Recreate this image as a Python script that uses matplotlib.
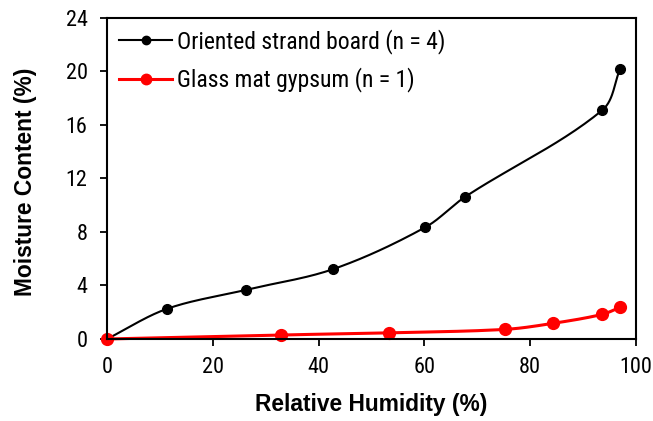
import numpy as np
import matplotlib.pyplot as plt

plt.rcParams['font.family'] = ['Liberation Sans', 'DejaVu Sans']
NARROW = ['Roboto Condensed', 'Liberation Sans', 'DejaVu Sans']

# data
osb_rh = [0, 11.3, 26.2, 42.8, 60.2, 67.6, 93.6, 97.0]
osb_mc = [0, 2.25, 3.67, 5.23, 8.36, 10.6, 17.1, 20.2]
gyp_rh = [0, 32.8, 53.3, 75.3, 84.3, 93.6, 97.0]
gyp_mc = [0, 0.30, 0.46, 0.72, 1.17, 1.84, 2.37]

labels = ["Oriented strand board (n = 4)", "Glass mat gypsum (n = 1)"]


def smooth(x, y, sx=5.29, sy=13.375, n=30):
    # smoothed line through the points, bezier segments in pixel space
    p = np.column_stack([np.asarray(x) * sx, np.asarray(y) * sy])
    m = len(p)
    tang = np.zeros_like(p)
    for i in range(m):
        a = p[max(i - 1, 0)]
        b = p[min(i + 1, m - 1)]
        d = b - a
        tang[i] = d / np.hypot(*d)
    out = [p[0]]
    for i in range(m - 1):
        p1, p2 = p[i], p[i + 1]
        L = np.hypot(*(p2 - p1)) / 3
        c1 = p1 + tang[i] * L
        c2 = p2 - tang[i + 1] * L
        t = np.linspace(0, 1, n)[1:, None]
        seg = ((1 - t) ** 3) * p1 + 3 * ((1 - t) ** 2) * t * c1 + 3 * (1 - t) * t ** 2 * c2 + t ** 3 * p2
        out.extend(seg)
    out = np.array(out)
    return out[:, 0] / sx, out[:, 1] / sy


fig = plt.figure(figsize=(6.53, 4.21), dpi=100)
ax = fig.add_axes([0.1639, 0.1948, 0.8101, 0.7625])

sx, sy = smooth(osb_rh, osb_mc)
ax.plot(sx, sy, color='black', lw=1.5)
ax.plot(osb_rh, osb_mc, 'o', color='black', ms=7)
ax.plot([], [], '-o', color='black', lw=1.5, ms=6, label=labels[0])

gx, gy = smooth(gyp_rh, gyp_mc)
ax.plot(gx, gy, color='red', lw=2.2)
ax.plot(gyp_rh, gyp_mc, 'o', color='red', ms=8.5)
ax.plot([], [], '-o', color='red', lw=2.2, ms=7.5, label=labels[1])

ax.set_xlim(0, 100)
ax.set_ylim(0, 24)
ax.set_xticks(np.arange(0, 101, 20))
ax.set_yticks(np.arange(0, 25, 4))
ax.tick_params(direction='out', length=5, width=1.3)
ax.tick_params(axis='x', pad=8)
ax.tick_params(axis='y', pad=9)
for t in ax.get_xticklabels() + ax.get_yticklabels():
    t.set_family(NARROW)
    t.set_fontsize(16)
for s in ax.spines.values():
    s.set_linewidth(1.5)
for p in ax.get_lines():
    p.set_clip_on(False)

ax.set_xlabel("Relative Humidity (%)", fontsize=16.4, fontweight='bold', labelpad=11)
ax.set_ylabel("Moisture Content (%)", fontsize=16.4, fontweight='bold')
ax.yaxis.set_label_coords(-0.133, 0.49)

ax.legend(loc='upper left', frameon=False, prop={'family': NARROW, 'size': 17},
          handlelength=2.25, handletextpad=0.2, labelspacing=0.57,
          borderaxespad=0.0, bbox_to_anchor=(0.005, 0.995))

fig.savefig("out.png", dpi=100)
